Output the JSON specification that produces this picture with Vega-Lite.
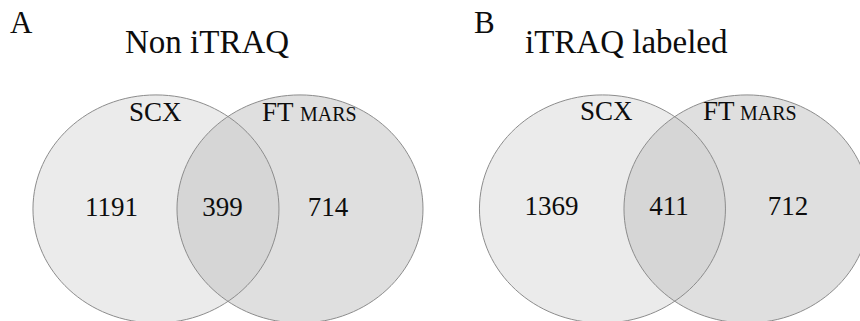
{
  "$schema": "https://vega.github.io/schema/vega-lite/v6.json",
  "width": 860,
  "height": 321,
  "padding": 0,
  "autosize": {"type": "none"},
  "background": "white",
  "config": {
    "view": {"stroke": null},
    "text": {"font": "Liberation Serif", "color": "#0d0d0d", "baseline": "alphabetic"}
  },
  "datasets": {
    "sets": [
      {"panel": "A", "set": "SCX", "x": 1.268, "y": 0.911},
      {"panel": "A", "set": "FT MARS", "x": 2.439, "y": 0.911},
      {"panel": "B", "set": "SCX", "x": 4.898, "y": 0.911},
      {"panel": "B", "set": "FT MARS", "x": 6.073, "y": 0.911}
    ],
    "labels": [
      {"kind": "panel", "text": "A", "x": 0.081, "y": 2.341},
      {"kind": "panel", "text": "B", "x": 3.854, "y": 2.341},
      {"kind": "title", "text": "Non iTRAQ", "x": 1.016, "y": 2.179},
      {"kind": "title", "text": "iTRAQ labeled", "x": 4.268, "y": 2.179},
      {"kind": "set", "text": "SCX", "x": 1.049, "y": 1.626},
      {"kind": "set", "text": "FT", "x": 2.13, "y": 1.626},
      {"kind": "smallcaps", "text": "MARS", "x": 2.439, "y": 1.626},
      {"kind": "set", "text": "SCX", "x": 4.715, "y": 1.634},
      {"kind": "set", "text": "FT", "x": 5.715, "y": 1.634},
      {"kind": "smallcaps", "text": "MARS", "x": 6.016, "y": 1.634},
      {"kind": "count", "text": "1191", "x": 0.907, "y": 0.854},
      {"kind": "count", "text": "399", "x": 1.809, "y": 0.854},
      {"kind": "count", "text": "714", "x": 2.667, "y": 0.854},
      {"kind": "count", "text": "1369", "x": 4.484, "y": 0.862},
      {"kind": "count", "text": "411", "x": 5.439, "y": 0.862},
      {"kind": "count", "text": "712", "x": 6.407, "y": 0.862}
    ]
  },
  "encoding": {
    "x": {"field": "x", "type": "quantitative", "scale": {"domain": [0, 6.9919], "nice": false, "zero": false}, "axis": null},
    "y": {"field": "y", "type": "quantitative", "scale": {"domain": [0, 2.6098], "nice": false, "zero": false}, "axis": null}
  },
  "layer": [
    {
      "data": {"name": "sets"},
      "transform": [{"filter": "datum.set === 'SCX'"}],
      "mark": {"type": "point", "filled": true, "clip": true, "shape": "M-1,0A1,0.927,0,1,0,1,0A1,0.927,0,1,0,-1,0Z", "size": 60516, "color": "#ebebeb", "opacity": 1, "strokeWidth": 0}
    },
    {
      "data": {"name": "sets"},
      "transform": [{"filter": "datum.set === 'FT MARS'"}],
      "mark": {"type": "point", "filled": true, "clip": true, "shape": "M-1,0A1,0.927,0,1,0,1,0A1,0.927,0,1,0,-1,0Z", "size": 60516, "color": "#c5c5c5", "opacity": 0.55, "strokeWidth": 0}
    },
    {
      "data": {"name": "sets"},
      "mark": {"type": "point", "filled": false, "clip": true, "shape": "M-1,0A1,0.927,0,1,0,1,0A1,0.927,0,1,0,-1,0Z", "size": 60516, "color": "#8c8c8c", "opacity": 1, "strokeWidth": 1}
    },
    {
      "data": {"name": "labels"},
      "transform": [{"filter": "datum.kind === 'panel'"}],
      "mark": {"type": "text", "align": "left", "fontSize": 31},
      "encoding": {"text": {"field": "text"}}
    },
    {
      "data": {"name": "labels"},
      "transform": [{"filter": "datum.kind === 'title'"}],
      "mark": {"type": "text", "align": "left", "fontSize": 33},
      "encoding": {"text": {"field": "text"}}
    },
    {
      "data": {"name": "labels"},
      "transform": [{"filter": "datum.kind === 'set'"}],
      "mark": {"type": "text", "align": "left", "fontSize": 27},
      "encoding": {"text": {"field": "text"}}
    },
    {
      "data": {"name": "labels"},
      "transform": [{"filter": "datum.kind === 'smallcaps'"}],
      "mark": {"type": "text", "align": "left", "fontSize": 20},
      "encoding": {"text": {"field": "text"}}
    },
    {
      "data": {"name": "labels"},
      "transform": [{"filter": "datum.kind === 'count'"}],
      "mark": {"type": "text", "align": "center", "fontSize": 27},
      "encoding": {"text": {"field": "text"}}
    }
  ]
}
